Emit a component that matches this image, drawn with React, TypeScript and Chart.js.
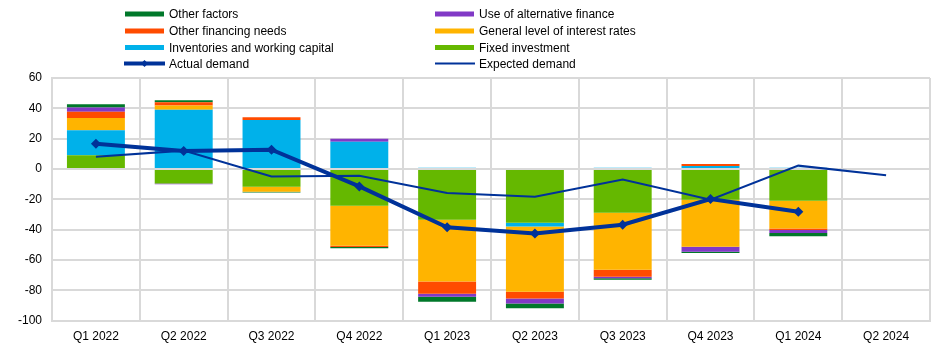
import React, { useEffect, useRef } from "react";
import { Chart, registerables } from "chart.js";

Chart.register(...registerables);

const categories = ["Q1 2022", "Q2 2022", "Q3 2022", "Q4 2022", "Q1 2023", "Q2 2023", "Q3 2023", "Q4 2023", "Q1 2024", "Q2 2024"];
const fixedInvestment = [9, -9.5, -11.7, -24.2, -33.5, -35.4, -28.8, -20.3, -20.9, null];
const inventories = [16.5, 39, 32.3, 18, 0.8, -2.5, 0.8, 2.0, 0.8, null];
const interestRates = [8.2, 2.8, -3.3, -26.4, -40.7, -43.1, -37.7, -31, -18.3, null];
const otherFinancing = [4.1, 2.2, 1.8, -0.9, -8.1, -4.4, -4.6, 1.3, -1.1, null];
const altFinance = [2.7, -0.5, 0, 2.0, -2.0, -3.3, -0.9, -3.3, -2.0, null];
const otherFactors = [2.2, 1.3, -0.5, -0.8, -3.3, -3.1, -1.1, -0.8, -2.0, null];
const actualDemand = [16.7, 11.9, 12.7, -11.5, -38.5, -42.5, -36.8, -19.8, -28.2, null];
const expectedDemand = [8.1, 12.1, -4.9, -4.4, -15.8, -18.3, -6.9, -20.3, 2.2, -4.2];
const yTicks = [60, 40, 20, 0, -20, -40, -60, -80, -100];

const C = {
  otherFactors: "#00782a",
  alt: "#8139c6",
  otherFin: "#ff4b00",
  rates: "#ffb400",
  inv: "#00b1ea",
  fixed: "#65b800",
  blue: "#003299",
};

const FONT = "'Liberation Sans', Arial, sans-serif";

const legendItems = [
  { label: "Other factors", color: C.otherFactors, kind: "bar", col: 0, row: 0 },
  { label: "Use of alternative finance", color: C.alt, kind: "bar", col: 1, row: 0 },
  { label: "Other financing needs", color: C.otherFin, kind: "bar", col: 0, row: 1 },
  { label: "General level of interest rates", color: C.rates, kind: "bar", col: 1, row: 1 },
  { label: "Inventories and working capital", color: C.inv, kind: "bar", col: 0, row: 2 },
  { label: "Fixed investment", color: C.fixed, kind: "bar", col: 1, row: 2 },
  { label: "Actual demand", color: C.blue, kind: "actual", col: 0, row: 3 },
  { label: "Expected demand", color: C.blue, kind: "expected", col: 1, row: 3 },
];

const legendPlugin = {
  id: "customLegend",
  afterDraw(chart: any) {
    const ctx = chart.ctx;
    const colX = [117, 427];
    const rowY = [6, 23, 39.5, 55.5];
    ctx.save();
    ctx.font = `12px ${FONT}`;
    ctx.textBaseline = "middle";
    ctx.fillStyle = "#000";
    legendItems.forEach((it) => {
      const x = colX[it.col];
      const y = rowY[it.row];
      if (it.kind === "bar") {
        ctx.fillStyle = it.color;
        ctx.fillRect(x, y - 2.5, 39, 5);
      } else if (it.kind === "actual") {
        ctx.strokeStyle = it.color;
        ctx.lineWidth = 4;
        ctx.beginPath();
        ctx.moveTo(x - 1, y);
        ctx.lineTo(x + 40, y);
        ctx.stroke();
        ctx.fillStyle = it.color;
        ctx.beginPath();
        ctx.moveTo(x + 19.5, y - 3.5);
        ctx.lineTo(x + 23, y);
        ctx.lineTo(x + 19.5, y + 3.5);
        ctx.lineTo(x + 16, y);
        ctx.closePath();
        ctx.fill();
      } else {
        ctx.strokeStyle = it.color;
        ctx.lineWidth = 2;
        ctx.beginPath();
        ctx.moveTo(x, y);
        ctx.lineTo(x + 40, y);
        ctx.stroke();
      }
      ctx.fillStyle = "#000";
      ctx.fillText(it.label, x + 44, y + 1);
    });
    ctx.restore();
  },
};

export default function App() {
  const ref = useRef<HTMLCanvasElement | null>(null);
  useEffect(() => {
    if (!ref.current) return;
    const barDs = (label: string, data: any[], color: string) => ({
      type: "bar" as const,
      label,
      data,
      backgroundColor: color,
      borderWidth: 0,
      order: 2,
      stack: "bars",
      barPercentage: 0.66,
      categoryPercentage: 1,
    });
    const chart = new Chart(ref.current, {
      type: "bar",
      data: {
        labels: categories,
        datasets: [
          {
            type: "line" as const,
            label: "Actual demand",
            data: actualDemand,
            borderColor: C.blue,
            backgroundColor: C.blue,
            borderWidth: 4,
            pointStyle: "rectRot",
            pointRadius: 5,
            pointBorderWidth: 0,
            order: 0,
            stack: "actual",
            tension: 0,
          } as any,
          {
            type: "line" as const,
            label: "Expected demand",
            data: expectedDemand,
            borderColor: C.blue,
            backgroundColor: C.blue,
            borderWidth: 2,
            pointRadius: 0,
            order: 1,
            stack: "expected",
            tension: 0,
          } as any,
          barDs("Fixed investment", fixedInvestment, C.fixed),
          barDs("Inventories and working capital", inventories, C.inv),
          barDs("General level of interest rates", interestRates, C.rates),
          barDs("Other financing needs", otherFinancing, C.otherFin),
          barDs("Use of alternative finance", altFinance, C.alt),
          barDs("Other factors", otherFactors, C.otherFactors),
        ],
      },
      options: {
        animation: false,
        responsive: false,
        maintainAspectRatio: false,
        layout: { padding: { top: 70, left: 0, right: 7, bottom: -7 } },
        plugins: {
          legend: { display: false },
          tooltip: { enabled: false },
        },
        scales: {
          x: {
            stacked: true,
            offset: true,
            grid: { color: "#d9d9d9", lineWidth: 2, offset: true, drawTicks: false },
            border: { color: "#d9d9d9", width: 2 },
            ticks: { color: "#000", font: { family: FONT, size: 12 }, padding: 9, maxRotation: 0 },
          },
          y: {
            stacked: true,
            min: -100,
            max: 60,
            afterBuildTicks: (axis: any) => {
              axis.ticks = yTicks.map((v) => ({ value: v }));
            },
            grid: { color: "#d9d9d9", lineWidth: 2, drawTicks: false },
            border: { color: "#d9d9d9", width: 2 },
            ticks: { color: "#000", font: { family: FONT, size: 12 }, padding: 10 },
          },
        },
      },
      plugins: [legendPlugin],
    });
    return () => chart.destroy();
  }, []);
  return (
    <div style={{ width: 929, height: 338 }}>
      <canvas ref={ref} width={929} height={338} style={{ display: "block", width: 929, height: 338 }} />
    </div>
  );
}
